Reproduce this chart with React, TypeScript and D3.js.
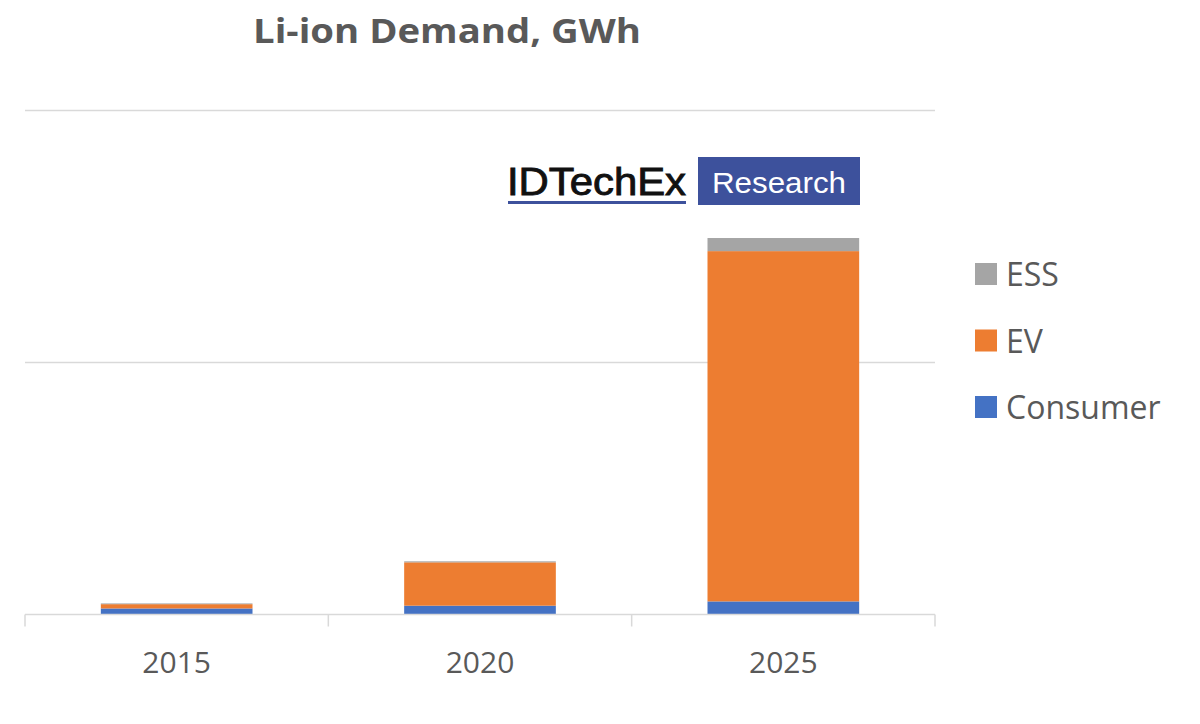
import React, { useEffect, useRef } from 'react'
import * as d3 from 'd3'

const years = ['2015', '2020', '2025']
const consumer = [22, 33, 50]
const ev = [17, 172, 1390]
const ess = [3, 4, 52]
const seriesNames = ['Consumer', 'EV', 'ESS']
const seriesColors = ['#4472C4', '#ED7D31', '#A5A5A5']
const gridTicks = [0, 1000, 2000]

export default function App() {
    const svgRef = useRef<SVGSVGElement>(null)
    const width = 1200
    const height = 724

    useEffect(() => {
        if (!svgRef.current) return
        const svg = d3.select(svgRef.current)
        svg.selectAll('*').remove()

        const font = "'Open Sans', 'Noto Sans', sans-serif"
        const textColor = '#595959'
        const margin = { left: 25, right: 265, top: 110, bottom: 110 }
        const baseline = height - margin.bottom

        const rows = years.map((y, i) => ({ year: y, Consumer: consumer[i], EV: ev[i], ESS: ess[i] }))
        const stack = d3.stack<any>().keys(seriesNames)(rows)

        const x = d3.scaleBand()
            .domain(years)
            .range([margin.left, width - margin.right])
            .paddingInner(0.5)
            .paddingOuter(0.25)

        const y = d3.scaleLinear()
            .domain([0, 2000])
            .range([baseline, margin.top])

        // title
        svg.append('text')
            .attr('x', 447)
            .attr('y', 43)
            .attr('text-anchor', 'middle')
            .attr('font-family', font)
            .attr('font-weight', 'bold')
            .attr('font-size', 34)
            .attr('fill', textColor)
            .attr('textLength', 388)
            .attr('lengthAdjust', 'spacingAndGlyphs')
            .text('Li-ion Demand, GWh')

        // gridlines
        svg.append('g')
            .selectAll('line')
            .data(gridTicks.slice(1))
            .enter().append('line')
            .attr('x1', margin.left)
            .attr('x2', width - margin.right)
            .attr('y1', d => y(d) + 0.5)
            .attr('y2', d => y(d) + 0.5)
            .attr('stroke', '#d9d9d9')
            .attr('stroke-width', 1.5)

        // bars
        svg.append('g')
            .selectAll('g')
            .data(stack)
            .enter().append('g')
            .attr('fill', (_, i) => seriesColors[i])
            .selectAll('rect')
            .data(d => d)
            .enter().append('rect')
            .attr('x', d => x(d.data.year)!)
            .attr('width', x.bandwidth())
            .attr('y', d => y(d[1]))
            .attr('height', d => y(d[0]) - y(d[1]))

        // x axis
        const axis = svg.append('g')
            .attr('transform', `translate(0,${baseline + 0.5})`)
        axis.append('line')
            .attr('x1', margin.left)
            .attr('x2', width - margin.right)
            .attr('stroke', '#d9d9d9')
            .attr('stroke-width', 1.5)
        const step = x.step()
        const edges = [0, 1, 2, 3].map(i => margin.left + i * step)
        axis.selectAll('.tick')
            .data(edges)
            .enter().append('line')
            .attr('x1', d => d)
            .attr('x2', d => d)
            .attr('y1', 0)
            .attr('y2', 12)
            .attr('stroke', '#d9d9d9')
            .attr('stroke-width', 1.5)
        axis.selectAll('text')
            .data(years)
            .enter().append('text')
            .attr('x', d => x(d)! + x.bandwidth() / 2)
            .attr('y', 58)
            .attr('text-anchor', 'middle')
            .attr('font-family', font)
            .attr('font-size', 30)
            .attr('fill', textColor)
            .text(d => d)

        // legend
        const legendItems = [2, 1, 0]
        const legend = svg.append('g')
        legendItems.forEach((si, k) => {
            const ly = 274 + k * 66.5
            legend.append('rect')
                .attr('x', 975)
                .attr('y', ly - 11)
                .attr('width', 22)
                .attr('height', 22)
                .attr('fill', seriesColors[si])
            legend.append('text')
                .attr('x', 1006)
                .attr('y', ly + 12)
                .attr('font-family', font)
                .attr('font-size', 32)
                .attr('fill', textColor)
                .text(seriesNames[si])
        })

        // logo
        const logo = svg.append('g')
        logo.append('text')
            .attr('x', 507)
            .attr('y', 195)
            .attr('font-family', "'Liberation Sans', Arial, sans-serif")
            .attr('font-size', 38)
            .attr('fill', '#111')
            .attr('stroke', '#111')
            .attr('stroke-width', 0.9)
            .attr('textLength', 179)
            .attr('lengthAdjust', 'spacingAndGlyphs')
            .text('IDTechEx')
        logo.append('rect')
            .attr('x', 508)
            .attr('y', 201)
            .attr('width', 178)
            .attr('height', 3)
            .attr('fill', '#3d519c')
        logo.append('rect')
            .attr('x', 698)
            .attr('y', 157)
            .attr('width', 162)
            .attr('height', 48)
            .attr('fill', '#3d519c')
        logo.append('text')
            .attr('x', 779)
            .attr('y', 193)
            .attr('text-anchor', 'middle')
            .attr('font-family', "'Liberation Sans', Arial, sans-serif")
            .attr('font-size', 30)
            .attr('fill', '#ffffff')
            .attr('textLength', 134)
            .attr('lengthAdjust', 'spacingAndGlyphs')
            .text('Research')
    }, [])

    return (
        <div style={{ position: 'absolute', left: 0, top: 0 }}>
            <svg ref={svgRef} width={width} height={height} style={{ display: 'block', background: '#fff' }} />
        </div>
    )
}
